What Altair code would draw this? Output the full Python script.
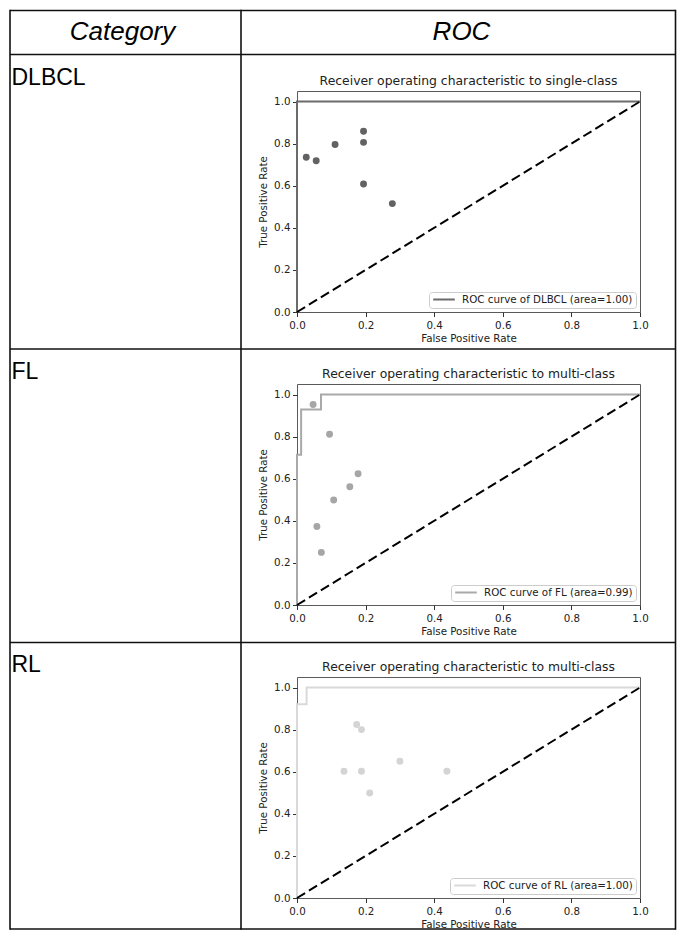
import altair as alt
import pandas as pd

# ---------------- data ----------------
categories = ["DLBCL", "FL", "RL"]
panel_titles = [
    "Receiver operating characteristic to single-class",
    "Receiver operating characteristic to multi-class",
    "Receiver operating characteristic to multi-class",
]
areas = ["1.00", "0.99", "1.00"]

# ROC curve vertices (fpr, tpr)
dlbcl_roc_fpr = [0.0, 0.0, 1.0]
dlbcl_roc_tpr = [0.0, 1.0, 1.0]
fl_roc_fpr = [0.0, 0.0, 0.012, 0.012, 0.070, 0.070, 1.0]
fl_roc_tpr = [0.0, 0.714, 0.714, 0.929, 0.929, 1.0, 1.0]
rl_roc_fpr = [0.0, 0.0, 0.028, 0.028, 1.0]
rl_roc_tpr = [0.0, 0.92, 0.92, 1.0, 1.0]

# scatter points (fpr, tpr)
dlbcl_pts_fpr = [0.027, 0.056, 0.111, 0.194, 0.194, 0.194, 0.278]
dlbcl_pts_tpr = [0.735, 0.719, 0.796, 0.859, 0.806, 0.608, 0.515]
fl_pts_fpr = [0.047, 0.095, 0.178, 0.154, 0.107, 0.058, 0.071]
fl_pts_tpr = [0.953, 0.811, 0.624, 0.562, 0.499, 0.373, 0.250]
rl_pts_fpr = [0.174, 0.188, 0.137, 0.188, 0.212, 0.300, 0.437]
rl_pts_tpr = [0.824, 0.800, 0.602, 0.602, 0.499, 0.650, 0.602]

# chance diagonal
diag_fpr = [0.0, 1.0]
diag_tpr = [0.0, 1.0]

axis_ticks = [0.0, 0.2, 0.4, 0.6, 0.8, 1.0]

roc_fprs = [dlbcl_roc_fpr, fl_roc_fpr, rl_roc_fpr]
roc_tprs = [dlbcl_roc_tpr, fl_roc_tpr, rl_roc_tpr]
pts_fprs = [dlbcl_pts_fpr, fl_pts_fpr, rl_pts_fpr]
pts_tprs = [dlbcl_pts_tpr, fl_pts_tpr, rl_pts_tpr]

line_colors = ["#6b6b6b", "#a9a9a9", "#d9d9d9"]
point_colors = ["#626262", "#a6a6a6", "#d4d4d4"]

# ---------------- layout constants (pixels, relative to plot origin) ----------------
W, H = 343, 221
ROW_SPACING = 72.0
label_y = [-6.5, -5.5, -5.0]
title_y = -6.5

one = pd.DataFrame({"k": [0]})
GRID = dict(color="#111111", strokeWidth=1.6)

# table grid (drawn in first row, coordinates relative to its plot origin)
x_left, x_mid, x_right = -287.0, -56.0, 378.5
y_top, y_head, y_r1, y_r2, y_bottom = -80.5, -36.5, 258.0, 551.5, 838.0


def hline(y):
    return alt.Chart(one).mark_rule(**GRID).encode(
        x=alt.value(x_left), x2=alt.value(x_right), y=alt.value(y)
    )


def vline(x):
    return alt.Chart(one).mark_rule(**GRID).encode(
        x=alt.value(x), y=alt.value(y_top - 0.8), y2=alt.value(y_bottom + 0.8)
    )


def text_at(txt, x, y, **kw):
    return alt.Chart(one).mark_text(**kw).encode(
        x=alt.value(x), y=alt.value(y), text=alt.value(txt)
    )


def panel(i):
    cat = categories[i]
    label = f"ROC curve of {cat} (area={areas[i]})"
    roc_df = pd.DataFrame({
        "fpr": roc_fprs[i],
        "tpr": roc_tprs[i],
        "order": list(range(len(roc_fprs[i]))),
        "series": [label] * len(roc_fprs[i]),
    })
    pts_df = pd.DataFrame({"fpr": pts_fprs[i], "tpr": pts_tprs[i]})
    diag_df = pd.DataFrame({"fpr": diag_fpr, "tpr": diag_tpr})

    xs = alt.Scale(domain=[0, 1], nice=False, zero=False)
    ys = alt.Scale(domain=[0, 1.05], nice=False, zero=False)
    xax = alt.Axis(title="False Positive Rate", values=axis_ticks, format=".1f",
                   labelPadding=4, titlePadding=3, labelFlush=False)
    yax = alt.Axis(title="True Positive Rate", values=axis_ticks, format=".1f",
                   labelPadding=2.5, titlePadding=5)

    line = alt.Chart(roc_df).mark_line(strokeWidth=2).encode(
        x=alt.X("fpr:Q", scale=xs, axis=xax),
        y=alt.Y("tpr:Q", scale=ys, axis=yax),
        order="order:Q",
        color=alt.Color(
            "series:N",
            scale=alt.Scale(domain=[label], range=[line_colors[i]]),
            legend=alt.Legend(
                orient="bottom-right", title=None, symbolType="stroke",
                symbolStrokeWidth=2, symbolSize=466, clipHeight=9,
                labelFont="DejaVu Sans", labelFontSize=10.3, labelColor="#222222",
                labelLimit=400,
                strokeColor="#cccccc", fillColor="white", padding=3,
                cornerRadius=3, offset=4, labelOffset=6,
            ),
        ),
    )
    diag = alt.Chart(diag_df).mark_line(
        color="black", strokeWidth=2, strokeDash=[9.5, 4.5]
    ).encode(x="fpr:Q", y="tpr:Q")
    pts = alt.Chart(pts_df).mark_circle(size=48, opacity=1, color=point_colors[i]).encode(
        x="fpr:Q", y="tpr:Q"
    )
    ttl = text_at(panel_titles[i], W / 2, title_y, align="center", baseline="alphabetic",
                  font="DejaVu Sans", fontSize=12.4, color="#222222")
    cat_txt = text_at(cat, -285.5, label_y[i], align="left", baseline="alphabetic",
                      font="Liberation Sans", fontSize=23, color="black")

    layers = [line, pts, diag, ttl, cat_txt]
    if i == 0:
        layers += [hline(y) for y in [y_top, y_head, y_r1, y_r2, y_bottom]]
        layers += [vline(x) for x in [x_left, x_mid, x_right]]
        layers += [
            text_at("Category", -174.5, -51.5, align="center", baseline="alphabetic",
                    font="Liberation Sans", fontSize=26, fontStyle="italic", color="black"),
            text_at("ROC", 164.5, -51.5, align="center", baseline="alphabetic",
                    font="Liberation Sans", fontSize=26, fontStyle="italic", color="black"),
        ]
    return alt.layer(*layers).properties(width=W, height=H)


chart = alt.vconcat(
    *[panel(i) for i in range(3)], spacing=ROW_SPACING, bounds="flush"
).resolve_scale(color="independent").resolve_legend(color="independent").properties(
    padding=0, background="white"
).configure_view(
    stroke="#5a5a5a", strokeWidth=1
).configure_axis(
    grid=False, domain=False, ticks=True, tickSize=4.5, tickColor="#333333", tickWidth=1,
    labelFont="DejaVu Sans", labelFontSize=10.3, labelColor="#222222",
    titleFont="DejaVu Sans", titleFontSize=10.3, titleFontWeight="normal", titleColor="#222222",
)

chart.save("out.html", embed_options={"renderer": "svg", "actions": False})
